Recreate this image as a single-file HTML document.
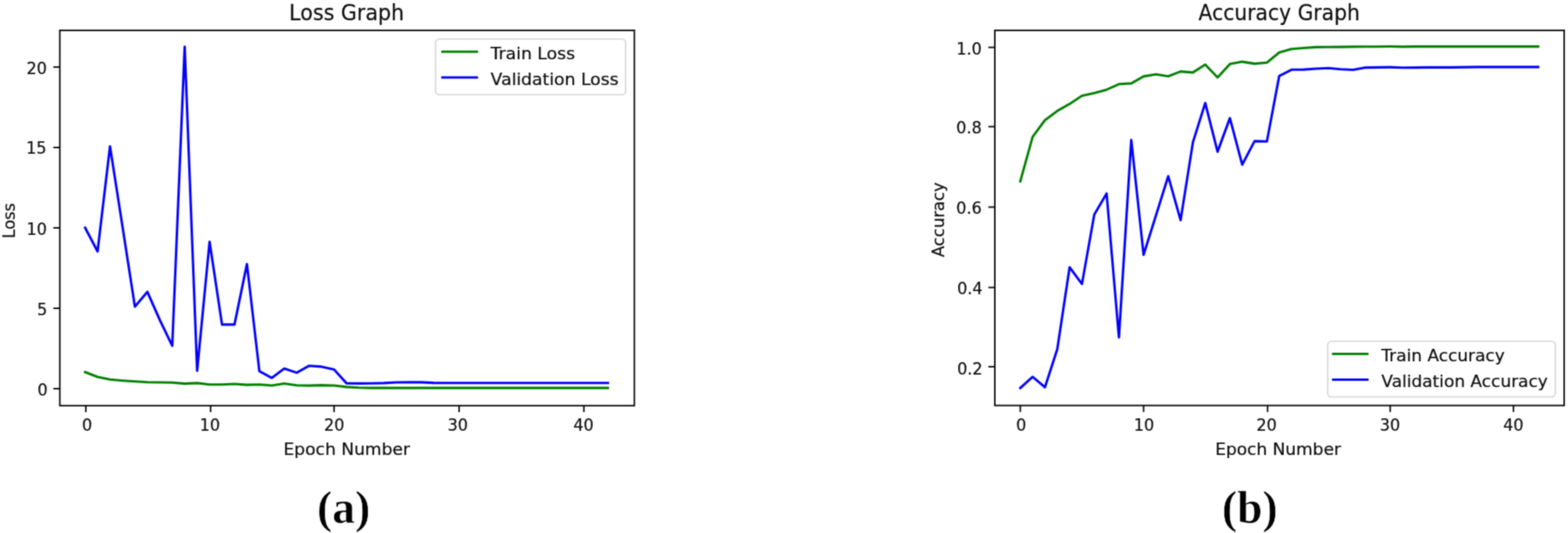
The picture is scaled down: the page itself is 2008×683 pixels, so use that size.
<!DOCTYPE html>
<html lang="en">
<head>
<meta charset="utf-8">
<title>Loss Graph and Accuracy Graph</title>
<style>
html,body{margin:0;padding:0;background:#fff;}
body{width:2008px;height:683px;overflow:hidden;}
svg{display:block;}
text{font-family:'DejaVu Sans','Liberation Sans',sans-serif;fill:#0c0c0c;stroke:#0c0c0c;stroke-width:0.22px;stroke-linejoin:round;}
.cap{font-family:'Liberation Serif','DejaVu Serif',serif;font-weight:bold;fill:#000;stroke:#fff;stroke-width:0.7px;paint-order:fill stroke;}
</style>
</head>
<body>
<svg width="2008" height="683" viewBox="0 0 2008 683">
<defs><filter id="soft" x="0" y="0" width="2008" height="683" filterUnits="userSpaceOnUse" color-interpolation-filters="sRGB"><feConvolveMatrix order="5 1" kernelMatrix="0.0096 0.2054 0.5699 0.2054 0.0096" edgeMode="duplicate" preserveAlpha="true" result="h"/><feConvolveMatrix in="h" order="1 5" kernelMatrix="0.0096 0.2054 0.5699 0.2054 0.0096" edgeMode="duplicate" preserveAlpha="true"/></filter></defs>
<rect x="0" y="0" width="2008" height="683" fill="#ffffff"/>
<g filter="url(#soft)">
<rect x="0" y="0" width="2008" height="683" fill="#ffffff"/>

<g>
<polyline points="109.00,476.80 124.94,483.00 140.88,486.30 156.82,487.70 172.76,488.80 188.70,489.80 204.64,490.00 220.58,490.20 236.52,491.60 252.46,490.90 268.40,492.70 284.34,492.70 300.28,492.00 316.22,493.10 332.16,492.70 348.10,494.00 364.04,491.50 379.98,493.80 395.92,494.10 411.86,493.60 427.80,494.00 443.74,495.90 459.68,496.80 475.62,497.10 491.56,497.10 507.50,497.10 523.44,497.10 539.38,497.10 555.32,497.10 571.26,497.10 587.20,497.10 603.14,497.10 619.08,497.10 635.02,497.10 650.96,497.10 666.90,497.10 682.84,497.10 698.78,497.10 714.72,497.10 730.66,497.10 746.60,497.10 762.54,497.10 778.48,497.10" fill="none" stroke="#008000" stroke-width="3.1" stroke-linejoin="round" stroke-linecap="square"/>
<polyline points="109.00,291.80 124.94,322.20 140.88,187.50 156.82,290.00 172.76,393.00 188.70,374.00 204.64,410.00 220.58,443.20 236.52,59.90 252.46,475.20 268.40,309.80 284.34,415.90 300.28,415.90 316.22,338.40 332.16,475.60 348.10,484.30 364.04,472.20 379.98,477.60 395.92,468.70 411.86,469.90 427.80,473.50 443.74,491.10 459.68,491.40 475.62,491.20 491.56,490.90 507.50,490.00 523.44,489.90 539.38,489.90 555.32,490.60 571.26,490.80 587.20,490.80 603.14,490.80 619.08,490.80 635.02,490.80 650.96,490.80 666.90,490.80 682.84,490.80 698.78,490.80 714.72,490.80 730.66,490.80 746.60,490.80 762.54,490.80 778.48,490.80" fill="none" stroke="#0000ff" stroke-width="3.1" stroke-linejoin="round" stroke-linecap="square"/>
<rect x="76.6" y="38.9" width="735.80" height="480.90" fill="none" stroke="#000000" stroke-width="1.9"/>
<line x1="109.90" y1="519.8" x2="109.90" y2="528.0999999999999" stroke="#000000" stroke-width="1.9"/>
<text transform="translate(111.40,552.10) scale(1.0,1)" font-size="20.5" text-anchor="middle">0</text>
<line x1="269.70" y1="519.8" x2="269.70" y2="528.0999999999999" stroke="#000000" stroke-width="1.9"/>
<text transform="translate(268.80,552.10) scale(1.0,1)" font-size="20.5" text-anchor="middle">10</text>
<line x1="427.80" y1="519.8" x2="427.80" y2="528.0999999999999" stroke="#000000" stroke-width="1.9"/>
<text transform="translate(428.00,552.10) scale(1.0,1)" font-size="20.5" text-anchor="middle">20</text>
<line x1="587.90" y1="519.8" x2="587.90" y2="528.0999999999999" stroke="#000000" stroke-width="1.9"/>
<text transform="translate(586.30,552.10) scale(1.0,1)" font-size="20.5" text-anchor="middle">30</text>
<line x1="747.70" y1="519.8" x2="747.70" y2="528.0999999999999" stroke="#000000" stroke-width="1.9"/>
<text transform="translate(747.30,552.10) scale(1.0,1)" font-size="20.5" text-anchor="middle">40</text>
<line x1="76.6" y1="498.10" x2="68.3" y2="498.10" stroke="#000000" stroke-width="1.9"/>
<text transform="translate(61.00,506.80) scale(1.0,1)" font-size="20.5" text-anchor="end">0</text>
<line x1="76.6" y1="395.05" x2="68.3" y2="395.05" stroke="#000000" stroke-width="1.9"/>
<text transform="translate(60.50,403.80) scale(1.0,1)" font-size="20.5" text-anchor="end">5</text>
<line x1="76.6" y1="292.00" x2="68.3" y2="292.00" stroke="#000000" stroke-width="1.9"/>
<text transform="translate(60.00,300.80) scale(1.0,1)" font-size="20.5" text-anchor="end">10</text>
<line x1="76.6" y1="188.95" x2="68.3" y2="188.95" stroke="#000000" stroke-width="1.9"/>
<text transform="translate(59.50,197.40) scale(1.0,1)" font-size="20.5" text-anchor="end">15</text>
<line x1="76.6" y1="85.90" x2="68.3" y2="85.90" stroke="#000000" stroke-width="1.9"/>
<text transform="translate(60.00,94.70) scale(1.0,1)" font-size="20.5" text-anchor="end">20</text>
<text transform="translate(443.90,25.60) scale(0.924,1)" font-size="28.6" text-anchor="middle">Loss Graph</text>
<text transform="translate(444.00,583.00) scale(1.07,1)" font-size="20.5" text-anchor="middle">Epoch Number</text>
<text transform="translate(19.00,282.80) rotate(-90) scale(1.01,1)" font-size="20.5" text-anchor="middle">Loss</text>
<rect x="557.8" y="50.1" width="243.40" height="71.30" rx="4.5" ry="4.5" fill="#ffffff" fill-opacity="0.8" stroke="#d8d8d8" stroke-width="1.9"/>
<line x1="565.0" y1="66.2" x2="612.2" y2="66.2" stroke="#008000" stroke-width="3.1"/>
<text transform="translate(628.30,75.60) scale(1.074,1)" font-size="20.5" text-anchor="start">Train Loss</text>
<line x1="565.0" y1="99.2" x2="612.2" y2="99.2" stroke="#0000ff" stroke-width="3.1"/>
<text transform="translate(628.30,108.60) scale(1.074,1)" font-size="20.5" text-anchor="start">Validation Loss</text>
</g>
<g>
<polyline points="1306.60,232.30 1322.39,175.30 1338.18,154.00 1353.97,142.20 1369.76,133.20 1385.55,122.80 1401.34,119.20 1417.13,114.90 1432.92,107.80 1448.71,106.90 1464.50,97.90 1480.29,95.20 1496.08,97.70 1511.87,91.60 1527.66,92.90 1543.45,82.70 1559.24,99.20 1575.03,82.10 1590.82,79.10 1606.61,81.60 1622.40,80.20 1638.19,67.20 1653.98,62.80 1669.77,61.50 1685.56,60.40 1701.35,60.30 1717.14,60.10 1732.93,59.90 1748.72,59.70 1764.51,59.70 1780.30,59.50 1796.09,59.90 1811.88,59.60 1827.67,59.60 1843.46,59.60 1859.25,59.60 1875.04,59.60 1890.83,59.60 1906.62,59.60 1922.41,59.60 1938.20,59.60 1953.99,59.60 1969.78,59.60" fill="none" stroke="#008000" stroke-width="3.1" stroke-linejoin="round" stroke-linecap="square"/>
<polyline points="1306.60,497.20 1322.39,482.90 1338.18,496.30 1353.97,447.60 1369.76,342.50 1385.55,363.90 1401.34,275.00 1417.13,248.00 1432.92,432.40 1448.71,179.40 1464.50,326.50 1480.29,276.20 1496.08,225.80 1511.87,282.20 1527.66,182.40 1543.45,132.00 1559.24,194.40 1575.03,151.40 1590.82,211.00 1606.61,180.90 1622.40,181.20 1638.19,97.40 1653.98,89.30 1669.77,89.10 1685.56,88.00 1701.35,87.30 1717.14,88.80 1732.93,89.50 1748.72,86.60 1764.51,86.40 1780.30,86.10 1796.09,86.80 1811.88,86.60 1827.67,86.40 1843.46,86.40 1859.25,86.40 1875.04,86.10 1890.83,85.90 1906.62,85.90 1922.41,85.90 1938.20,85.90 1953.99,85.90 1969.78,85.90" fill="none" stroke="#0000ff" stroke-width="3.1" stroke-linejoin="round" stroke-linecap="square"/>
<rect x="1274.0" y="38.9" width="729.10" height="480.70" fill="none" stroke="#000000" stroke-width="1.9"/>
<line x1="1306.60" y1="519.6" x2="1306.60" y2="527.9" stroke="#000000" stroke-width="1.9"/>
<text transform="translate(1307.70,552.10) scale(1.0,1)" font-size="20.5" text-anchor="middle">0</text>
<line x1="1464.50" y1="519.6" x2="1464.50" y2="527.9" stroke="#000000" stroke-width="1.9"/>
<text transform="translate(1465.00,552.10) scale(1.0,1)" font-size="20.5" text-anchor="middle">10</text>
<line x1="1623.30" y1="519.6" x2="1623.30" y2="527.9" stroke="#000000" stroke-width="1.9"/>
<text transform="translate(1622.00,552.10) scale(1.0,1)" font-size="20.5" text-anchor="middle">20</text>
<line x1="1780.30" y1="519.6" x2="1780.30" y2="527.9" stroke="#000000" stroke-width="1.9"/>
<text transform="translate(1780.00,552.10) scale(1.0,1)" font-size="20.5" text-anchor="middle">30</text>
<line x1="1938.20" y1="519.6" x2="1938.20" y2="527.9" stroke="#000000" stroke-width="1.9"/>
<text transform="translate(1938.00,552.10) scale(1.0,1)" font-size="20.5" text-anchor="middle">40</text>
<line x1="1274.0" y1="469.90" x2="1265.7" y2="469.90" stroke="#000000" stroke-width="1.9"/>
<text transform="translate(1258.40,479.90) scale(1.0,1)" font-size="20.5" text-anchor="end">0.2</text>
<line x1="1274.0" y1="368.40" x2="1265.7" y2="368.40" stroke="#000000" stroke-width="1.9"/>
<text transform="translate(1258.40,376.80) scale(1.0,1)" font-size="20.5" text-anchor="end">0.4</text>
<line x1="1274.0" y1="265.40" x2="1265.7" y2="265.40" stroke="#000000" stroke-width="1.9"/>
<text transform="translate(1257.20,274.20) scale(1.0,1)" font-size="20.5" text-anchor="end">0.6</text>
<line x1="1274.0" y1="162.30" x2="1265.7" y2="162.30" stroke="#000000" stroke-width="1.9"/>
<text transform="translate(1257.20,171.10) scale(1.0,1)" font-size="20.5" text-anchor="end">0.8</text>
<line x1="1274.0" y1="60.70" x2="1265.7" y2="60.70" stroke="#000000" stroke-width="1.9"/>
<text transform="translate(1257.40,69.50) scale(1.0,1)" font-size="20.5" text-anchor="end">1.0</text>
<text transform="translate(1638.10,25.60) scale(0.909,1)" font-size="28.6" text-anchor="middle">Accuracy Graph</text>
<text transform="translate(1636.70,583.00) scale(1.063,1)" font-size="20.5" text-anchor="middle">Epoch Number</text>
<text transform="translate(1208.80,281.50) rotate(-90) scale(1.025,1)" font-size="20.5" text-anchor="middle">Accuracy</text>
<rect x="1700.3" y="437.4" width="291.40" height="71.20" rx="4.5" ry="4.5" fill="#ffffff" fill-opacity="0.8" stroke="#d8d8d8" stroke-width="1.9"/>
<line x1="1705.8" y1="453.5" x2="1752.6" y2="453.5" stroke="#008000" stroke-width="3.1"/>
<text transform="translate(1769.00,463.00) scale(1.059,1)" font-size="20.5" text-anchor="start">Train Accuracy</text>
<line x1="1705.8" y1="486.5" x2="1752.6" y2="486.5" stroke="#0000ff" stroke-width="3.1"/>
<text transform="translate(1769.00,495.50) scale(1.059,1)" font-size="20.5" text-anchor="start">Validation Accuracy</text>
</g>
<text class="cap" x="440.2" y="669.5" font-size="58.6" text-anchor="middle">(<tspan dy="0.6" font-size="58.4">a</tspan><tspan dy="-0.6">)</tspan></text>
<text class="cap" x="1600.5" y="669.5" font-size="58.6" text-anchor="middle">(<tspan dy="0.6" font-size="58.4">b</tspan><tspan dy="-0.6">)</tspan></text>
</g>
</svg>
</body>
</html>
